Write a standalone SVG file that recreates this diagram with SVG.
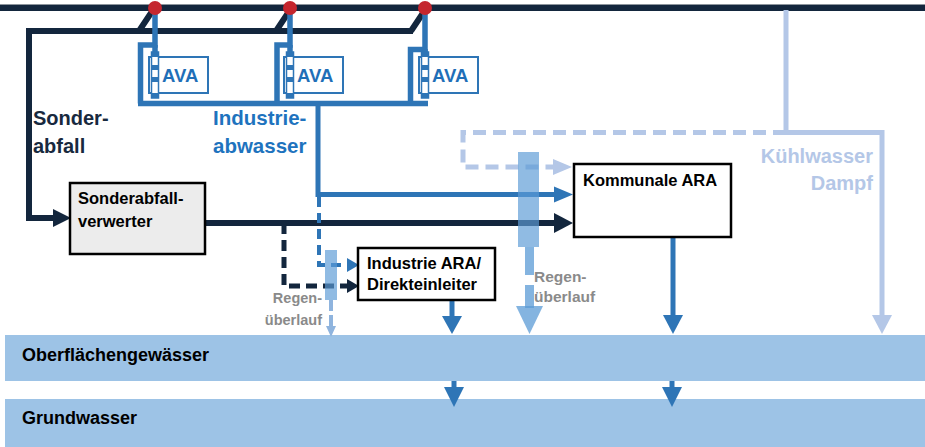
<svg xmlns="http://www.w3.org/2000/svg" width="925" height="447" viewBox="0 0 925 447">
<style>
.t{font-family:"Liberation Sans",Arial,sans-serif;font-weight:bold}
.navy{fill:none;stroke:#13263d;stroke-width:6}
.navyd{fill:none;stroke:#13263d;stroke-width:5;stroke-dasharray:11 6}
.blue{fill:none;stroke:#2e75b6;stroke-width:5}
.blued{fill:none;stroke:#2e75b6;stroke-width:4;stroke-dasharray:10 6}
.light{fill:none;stroke:#b4c7e7;stroke-width:5}
.lightd{fill:none;stroke:#b4c7e7;stroke-width:5;stroke-dasharray:13 7}
.hnavy{fill:#13263d}
.hblue{fill:#2e75b6}
.hlight{fill:#b4c7e7}
.pipe{fill:none;stroke:#2e75b6;stroke-width:5.5}
.box{fill:#fff;stroke:#000;stroke-width:2.5}
.ava{fill:#fff;stroke:#2e75b6;stroke-width:2}
.avat{font-size:18.5px;fill:#1f6fb8}
.btxt{font-size:16.5px;fill:#000}
.regen{fill:#5b9bd5;fill-opacity:0.68}
.gray{font-size:14.5px;fill:#8a8a8a}
.grayl{font-size:15.5px;fill:#8a8a8a}
.band{fill:#9dc3e6}
.bandt{font-size:18px;fill:#000}
.dot{fill:#c4262e}
</style>

<g id="oberflaechengewaesser">
<rect class="band" x="5" y="335" width="920" height="46"/>
<text class="t bandt" x="22" y="361">Oberflächengewässer</text>
</g>
<g id="grundwasser">
<rect class="band" x="5" y="399" width="920" height="48"/>
<text class="t bandt" x="22" y="424">Grundwasser</text>
</g>

<g id="connectors">
<line x1="0" y1="4.5" x2="925" y2="4.5" stroke="#8c949c" stroke-width="1"/>
<line class="navy" x1="0" y1="8" x2="925" y2="8"/>
<path class="light" d="M786,10 V132.5 H882 V317"/>
<polygon class="hlight" points="872,315 882,334 892,315"/>
<path class="lightd" d="M786,132.5 H463 V167 H555"/>
<polygon class="hlight" points="553,159 572,167 553,175"/>
<path class="navy" d="M153,10 L139,31 M290,10 L276,31 M425,10 L411,31" stroke-width="6.5"/>
<path class="navy" d="M413,31 H29 V218 H55" stroke-width="5.5"/>
<polygon class="hnavy" points="53,209 71,218 53,227"/>
<path class="navy" d="M205,223 H556"/>
<polygon class="hnavy" points="554,213 573,223 554,233"/>
<path class="navyd" d="M284,223 V286 H350"/>
<polygon class="hnavy" points="347,279 359,286 347,293"/>
<path class="pipe" d="M155,8 V45 H140.5 V103.5"/>
<path class="pipe" d="M290,8 V45 H277 V103.5"/>
<path class="pipe" d="M425,8 V49.5 H410.5 V103.5"/>
<path class="pipe" d="M138,103.5 H428"/>
<path class="pipe" d="M155,45 V98 M290,45 V98 M425,49 V98"/>
<path class="blue" d="M318,103 V194.5 H556"/>
<polygon class="hblue" points="554,186.5 573,194.5 554,202.5"/>
<path class="blued" d="M319,197 V265 H350"/>
<polygon class="hblue" points="347,258 359,265 347,272"/>
<path class="blue" d="M452,300 V318" stroke-width="6"/>
<polygon class="hblue" points="442,316 452,334 462,316"/>
<path class="blue" d="M673,237 V317" stroke-width="6"/>
<polygon class="hblue" points="663,315 673,334 683,315"/>
<path class="blue" d="M454,381 V389" stroke-width="7"/>
<polygon class="hblue" points="444,387 454,407 464,387"/>
<path class="blue" d="M672,381 V389" stroke-width="7"/>
<polygon class="hblue" points="662,387 672,407 682,387"/>
<path d="M331,300 V328" fill="none" stroke="#8fb4de" stroke-width="4" stroke-dasharray="11 4"/>
<polygon fill="#8fb4de" points="326,326 331,337 336,326"/>
<path d="M529.5,247 V308" fill="none" stroke="#5b9bd5" stroke-opacity="0.75" stroke-width="9" stroke-dasharray="28 10"/>
<polygon fill="#5b9bd5" fill-opacity="0.75" points="516,306 529.5,334 543,306"/>
</g>

<g id="ava1">
<rect class="ava" x="149" y="57" width="59" height="36"/>
<rect x="151.5" y="52" width="7" height="46" fill="#fff" stroke="#2e75b6" stroke-width="1.5"/>
<rect class="hblue" x="151.5" y="52" width="7" height="5"/>
<rect class="hblue" x="151.5" y="65" width="7" height="5"/>
<rect class="hblue" x="151.5" y="77" width="7" height="5"/>
<rect class="hblue" x="151.5" y="93" width="7" height="5"/>
<text class="t avat" x="162" y="81.5">AVA</text>
</g>
<g id="ava2">
<rect class="ava" x="284" y="57" width="59" height="36"/>
<rect x="286.5" y="52" width="7" height="46" fill="#fff" stroke="#2e75b6" stroke-width="1.5"/>
<rect class="hblue" x="286.5" y="52" width="7" height="5"/>
<rect class="hblue" x="286.5" y="65" width="7" height="5"/>
<rect class="hblue" x="286.5" y="77" width="7" height="5"/>
<rect class="hblue" x="286.5" y="93" width="7" height="5"/>
<text class="t avat" x="297" y="81.5">AVA</text>
</g>
<g id="ava3">
<rect class="ava" x="419" y="57" width="59" height="36"/>
<rect x="421.5" y="52" width="7" height="46" fill="#fff" stroke="#2e75b6" stroke-width="1.5"/>
<rect class="hblue" x="421.5" y="52" width="7" height="5"/>
<rect class="hblue" x="421.5" y="65" width="7" height="5"/>
<rect class="hblue" x="421.5" y="77" width="7" height="5"/>
<rect class="hblue" x="421.5" y="93" width="7" height="5"/>
<text class="t avat" x="432" y="81.5">AVA</text>
</g>

<g id="sonderabfallverwerter">
<rect class="box" x="70" y="183" width="135" height="71" style="fill:#ececec"/>
<text class="t btxt" x="78" y="204">Sonderabfall-</text>
<text class="t btxt" x="78" y="227">verwerter</text>
</g>
<g id="industrie-ara">
<rect class="box" x="358" y="248" width="137" height="52"/>
<text class="t btxt" x="367" y="269">Industrie ARA/</text>
<text class="t btxt" x="367" y="290">Direkteinleiter</text>
</g>
<g id="kommunale-ara">
<rect class="box" x="574" y="164" width="157" height="73"/>
<text class="t btxt" x="583" y="186">Kommunale ARA</text>
</g>

<g id="regenueberlauf-klein">
<rect class="regen" x="325" y="250" width="12" height="50"/>
<text class="t gray" x="322" y="303" text-anchor="end">Regen-</text>
<text class="t gray" x="322" y="325" text-anchor="end">überlauf</text>
</g>
<g id="regenueberlauf-gross">
<rect class="regen" x="518" y="152" width="21" height="95"/>
<text class="t grayl" x="534" y="282">Regen-</text>
<text class="t grayl" x="534" y="302">überlauf</text>
</g>

<g id="labels">
<text class="t" x="33" y="125" font-size="20" fill="#18293e">Sonder-</text>
<text class="t" x="33" y="153" font-size="20" fill="#18293e">abfall</text>
<text class="t" x="213" y="125" font-size="20.5" fill="#1e73be">Industrie-</text>
<text class="t" x="213" y="153" font-size="20.5" fill="#1e73be">abwasser</text>
<text class="t" x="873" y="163" font-size="20" fill="#b4c7e7" text-anchor="end">Kühlwasser</text>
<text class="t" x="873" y="190" font-size="20" fill="#b4c7e7" text-anchor="end">Dampf</text>
</g>

<g id="knoten">
<circle class="dot" cx="155" cy="8" r="7"/>
<circle class="dot" cx="290" cy="8" r="7"/>
<circle class="dot" cx="425" cy="8" r="7"/>
</g>
</svg>
